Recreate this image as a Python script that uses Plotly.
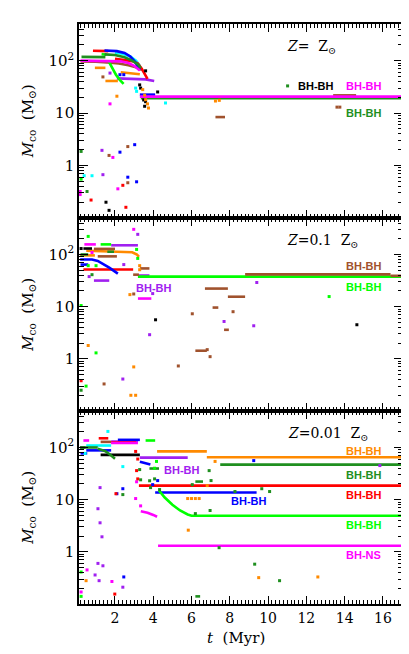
import plotly.graph_objects as go

# ---------------- colours ----------------
RED = "#ff0000"; BLUE = "#0000ff"; LIME = "#00ff00"; DKGREEN = "#1f8f1f"
MAGENTA = "#ff00ff"; CYAN = "#00ffff"; ORANGE = "#ff8a00"; BROWN = "#a0522d"
PURPLE = "#a020f0"; BLACK = "#000000"

# ---------------- Panel 1 : Z = Zsun ----------------
z1_red_t = [0.85, 1.25, 1.65, None, 2.0, 2.5, 2.9, 3.2, 3.4, 3.7]
z1_red_m = [155, 155, 152, None, 108, 104, 98, 88, 70, 45]
z1_blue_t = [1.45, 1.8, 2.1, 2.5, 2.8, 3.05, 3.3, None, 3.3, 4.1]
z1_blue_m = [156, 155, 152, 140, 120, 95, 66, None, 22.5, 22.5]
z1_dkgreen_t = [0.25, 0.9, 1.5, None, 1.45, 2.0, 2.5, 2.9, 3.2, 3.35, None, 3.35, 17.1]
z1_dkgreen_m = [118, 118, 117, None, 132, 128, 116, 100, 85, 72, None, 19.2, 19.2]
z1_magenta_t = [0.2, 1.0, 1.8, 2.3, 2.7, 3.0, 3.3, None, 3.3, 17.1]
z1_magenta_m = [100, 100, 99, 97, 90, 80, 65, None, 20.6, 20.6]
z1_cyan_t = [2.0, 2.4, 2.8, 3.1, 3.3]
z1_cyan_m = [142, 136, 120, 100, 80]
z1_lime_t = [1.3, 1.55, None, 1.65, 1.85, 2.05, 2.25, 2.45]
z1_lime_m = [133, 130, None, 100, 72, 54, 43, 36]
z1_brown_t = [0.2, 1.0, 1.6, 2.2, 2.7, 3.1, 3.4, None, 7.25, 7.75, None, 13.4, 14.6]
z1_brown_m = [97, 96, 92, 88, 82, 75, 67, None, 8.4, 8.4, None, 21.8, 21.8]
z1_orange_t = [0.95, 1.5, None, 1.5, 2.15, None, 2.3, 2.8, 3.3]
z1_orange_m = [73, 73, None, 41, 41, None, 60, 58, 55]
z1_purple_t = [2.1, 3.0, 3.6, 4.05]
z1_purple_m = [46, 45, 44, 41]

z1_dot_black_t = [3.6, 3.29, 3.34, 4.23, 3.6, 3.5, 3.55, 1.53, 1.69]
z1_dot_black_m = [64, 34.5, 30, 25.3, 16.5, 17.8, 13.5, 0.2, 0.14]
z1_dot_cyan_t = [3.08, 3.13, 4.64, 0.39, 0.8]
z1_dot_cyan_m = [30, 26, 15.6, 0.64, 0.64]
z1_dot_dkgreen_t = [0.23, 0.54, 11.02]
z1_dot_dkgreen_m = [1.86, 0.32, 33]
z1_dot_lime_t = [0.23]
z1_dot_lime_m = [0.55]
z1_dot_purple_t = [1.32, 1.37, 1.74]
z1_dot_purple_m = [1.95, 0.67, 58]
z1_dot_brown_t = [1.69, 2.67, 2.67, 1.37, 13.6, 13.75]
z1_dot_brown_m = [1.56, 2.3, 0.47, 49, 13, 13]
z1_dot_magenta_t = [1.89, 2.15, 0.18, 0.18, 1.74]
z1_dot_magenta_m = [1.43, 0.36, 0.32, 0.28, 15]
z1_dot_blue_t = [2.26, 3.03, 2.67, 3.13, 2.26, 2.46]
z1_dot_blue_m = [1.8, 2.5, 0.6, 0.49, 54, 54]
z1_dot_red_t = [2.41, 0.75, 2.57]
z1_dot_red_m = [0.42, 0.22, 0.16]
z1_dot_orange_t = [2.1, 3.45, 3.55, 3.6, 3.7, 3.75, 7.25, 7.45]
z1_dot_orange_m = [21, 28, 22, 18, 15, 12.5, 17, 17.5]

# ---------------- Panel 2 : Z = 0.1 Zsun ----------------
z2_magenta_t = [0.4, 1.0, None, 3.2, 3.9]
z2_magenta_m = [156, 156, None, 14.3, 14.3]
z2_lime_t = [1.25, 1.8, None, 3.2, 17.1]
z2_lime_m = [156, 156, None, 37.7, 37.7]
z2_purple_t = [1.8, 3.2, None, 0.9, 1.7, None, 3.2, 3.8]
z2_purple_m = [150, 150, None, 31.6, 31.6, None, 39.5, 39.5]
z2_black_t = [0.35, 0.8]
z2_black_m = [130, 130]
z2_brown_t = [0.9, 2.0, None, 1.1, 2.1, None, 2.95, 3.25, None, 3.3, 3.8, None, 8.8, 16.4,
              None, 16.4, 17.1, None, 6.7, 7.9, None, 7.9, 8.8, None, 7.1, 7.4,
              None, 7.7, 7.95, None, 6.2, 6.8]
z2_brown_m = [128, 128, None, 92, 92, None, 41, 41, None, 54, 54, None, 41.5, 41.5,
              None, 39, 39, None, 22.2, 22.2, None, 15.5, 15.5, None, 9.6, 9.6,
              None, 3.6, 3.6, None, 1.43, 1.43]
z2_orange_t = [0.5, 1.5, 2.3, 2.9, 3.15, 3.25, None, 0.18, 0.95]
z2_orange_m = [118, 116, 114, 110, 100, 90, None, 96, 96]
z2_dkgreen_t = [0.2, 0.6, None, 1.6, 1.95]
z2_dkgreen_m = [100, 100, None, 113, 113]
z2_blue_t = [0.18, 0.8, 1.1, 1.4, 1.7, 2.0, 2.15, None, 0.2, 0.6]
z2_blue_m = [80, 80, 75, 66, 56, 47, 43, None, 64, 64]
z2_red_t = [0.35, 2.95]
z2_red_m = [51.5, 51.5]

z2_dot_lime_t = [0.6, 0.23, 1.01, 0.49, 0.6, 1.01, 3.13, 3.19, 13.19]
z2_dot_lime_m = [222, 10.5, 1.3, 0.3, 61, 61, 125, 84, 15.6]
z2_dot_magenta_t = [2.98, 0.8]
z2_dot_magenta_m = [303, 109]
z2_dot_purple_t = [3.19, 3.81, 2.41, 3.97, 9.41, 7.7, 9.25, 0.65, 2.46]
z2_dot_purple_m = [243, 2.9, 0.41, 17.8, 29, 5.2, 4.3, 37.7, 64]
z2_dot_black_t = [4.12, 14.64, 0.23]
z2_dot_black_m = [5.6, 4.5, 130]
z2_dot_brown_t = [6.04, 8.17, 6.82, 6.97, 5.31, 1.43, 2.98]
z2_dot_brown_m = [7.3, 8, 1.5, 1.1, 0.73, 0.33, 17.5]
z2_dot_orange_t = [0.6, 2.98, 2.83, 3.08, 2.78, 3.29, 3.29]
z2_dot_orange_m = [1.8, 0.7, 0.2, 0.2, 17, 61, 51]
z2_dot_red_t = [0.23]
z2_dot_red_m = [0.38]
z2_dot_dkgreen_t = [0.23, 0.8]
z2_dot_dkgreen_m = [0.25, 41]

# ---------------- Panel 3 : Z = 0.01 Zsun ----------------
z3_magenta_t = [0.35, 0.65, None, 1.8, 3.2, None, 3.35, 3.7, 4.0, 4.2, None, 4.25, 17.1]
z3_magenta_m = [136, 136, None, 122, 122, None, 6.0, 5.6, 5.1, 4.7, None, 1.31, 1.31]
z3_red_t = [1.15, 1.65, None, 1.8, 3.1, None, 3.25, 17.1]
z3_red_m = [150, 150, None, 125, 125, None, 18.6, 18.6]
z3_blue_t = [2.15, 3.3, None, 0.5, 1.8, None, 0.2, 0.55, None, 3.3, 3.85, None, 4.1, 9.4]
z3_blue_m = [140, 140, None, 88, 88, None, 77, 77, None, 53, 47, None, 13.7, 13.7]
z3_purple_t = [1.8, 3.2, None, 3.3, 5.8]
z3_purple_m = [130, 130, None, 64, 64]
z3_brown_t = [1.25, 1.8]
z3_brown_m = [128, 128]
z3_lime_t = [3.6, 4.1, None, 4.3, 4.6, 5.0, 5.4, 5.8, 6.0, 17.1]
z3_lime_m = [136, 136, None, 15, 11, 8, 6.2, 5.2, 4.9, 4.9]
z3_cyan_t = [0.5, 1.8]
z3_cyan_m = [109, 109]
z3_dkgreen_t = [0.2, 1.1, None, 1.1, 1.5, 1.8, 2.0, None, 3.8, 4.3, None, 6.2, 6.6,
                None, 6.2, 6.45, None, 7.5, 17.1]
z3_dkgreen_m = [100, 100, None, 95, 85, 70, 61, None, 39.5, 39.5, None, 22.2, 22.2,
                None, 0.14, 0.14, None, 47, 47]
z3_black_t = [0.18, 0.45, None, 1.25, 3.3]
z3_black_m = [100, 100, None, 72, 72]
z3_orange_t = [4.2, 6.8, None, 6.8, 17.1]
z3_orange_m = [84, 84, None, 65, 65]

z3_dot_cyan_t = [1.63, 2.41, 0.44]
z3_dot_cyan_m = [203, 43, 77]
z3_dot_blue_t = [2.1, 2.41, 2.46, 9.25, 3.97, 4.23]
z3_dot_blue_m = [13, 16.2, 0.33, 56, 19.4, 23.2]
z3_dot_purple_t = [1.22, 1.11, 1.22, 1.32, 1.11, 1.37, 0.96, 1.17, 2.41, 15.84]
z3_dot_purple_m = [17, 6.7, 3.6, 1.94, 0.6, 0.54, 0.36, 0.28, 0.21, 45]
z3_dot_magenta_t = [1.84, 0.54, 0.23, 3.13, 3.08, 3.34]
z3_dot_magenta_m = [0.27, 0.45, 0.17, 22, 10.5, 7.6]
z3_dot_orange_t = [0.49, 5.83, 7.23, 6.82, 9.51, 12.6, 5.8, 6.0, 6.2, 6.4]
z3_dot_orange_m = [0.28, 2.6, 54, 18.6, 0.32, 0.33, 10.5, 10.5, 10.5, 10.5]
z3_dot_red_t = [1.99, 3.08, 3.19, 3.13, 2.05, 3.19]
z3_dot_red_m = [0.155, 84, 60, 36, 13, 25]
z3_dot_lime_t = [0.23, 4.17, 4.07, 0.23]
z3_dot_lime_m = [0.14, 54, 40, 0.41]
z3_dot_dkgreen_t = [2.41, 3.29, 3.34, 3.81, 4.07, 3.86, 4.33, 6.92, 7.02, 6.04, 8.27,
                    9.67, 10.08, 6.97, 6.2, 7.44, 9.3, 10.6]
z3_dot_dkgreen_m = [12.5, 37.7, 24, 23, 25, 17, 15.6, 36, 23.2, 19.4, 14.3, 16.2,
                    14.3, 6.2, 5.4, 1.2, 0.58, 0.28]

# ---------------- axis ticks ----------------
y_major = [1, 10, 100]
y_major_text = ["1", "10", "10<sup>2</sup>"]
y_minor = [0.2, 0.3, 0.4, 0.5, 0.6, 0.7, 0.8, 0.9, 2, 3, 4, 5, 6, 7, 8, 9,
           20, 30, 40, 50, 60, 70, 80, 90, 200, 300, 400]
panel_labels = ["<i>Z</i>=  Z<sub>⊙</sub>", "<i>Z</i>=0.1  Z<sub>⊙</sub>", "<i>Z</i>=0.01  Z<sub>⊙</sub>"]

fig = go.Figure()


def axes_for(panel):
    if panel == 1:
        return "x", "y"
    return "x%d" % panel, "y%d" % panel


def add_line(panel, t, m, color, width=2.6):
    xa, ya = axes_for(panel)
    fig.add_trace(go.Scatter(x=t, y=m, mode="lines", xaxis=xa, yaxis=ya,
                             line=dict(color=color, width=width),
                             showlegend=False, hoverinfo="skip"))


def add_dots(panel, t, m, color):
    xa, ya = axes_for(panel)
    fig.add_trace(go.Scatter(x=t, y=m, mode="markers", xaxis=xa, yaxis=ya,
                             marker=dict(color=color, size=3, symbol="square",
                                         line=dict(width=0)),
                             showlegend=False, hoverinfo="skip"))


# panel 1
add_line(1, z1_orange_t, z1_orange_m, ORANGE)
add_line(1, z1_purple_t, z1_purple_m, PURPLE)
add_line(1, z1_brown_t, z1_brown_m, BROWN)
add_line(1, z1_lime_t, z1_lime_m, LIME)
add_line(1, z1_cyan_t, z1_cyan_m, CYAN)
add_line(1, z1_red_t, z1_red_m, RED)
add_line(1, z1_blue_t, z1_blue_m, BLUE)
add_line(1, z1_dkgreen_t, z1_dkgreen_m, DKGREEN)
add_line(1, z1_magenta_t, z1_magenta_m, MAGENTA)
for t, m, c in [(z1_dot_black_t, z1_dot_black_m, BLACK), (z1_dot_cyan_t, z1_dot_cyan_m, CYAN),
                (z1_dot_dkgreen_t, z1_dot_dkgreen_m, DKGREEN), (z1_dot_lime_t, z1_dot_lime_m, LIME),
                (z1_dot_purple_t, z1_dot_purple_m, PURPLE), (z1_dot_brown_t, z1_dot_brown_m, BROWN),
                (z1_dot_magenta_t, z1_dot_magenta_m, MAGENTA), (z1_dot_blue_t, z1_dot_blue_m, BLUE),
                (z1_dot_red_t, z1_dot_red_m, RED), (z1_dot_orange_t, z1_dot_orange_m, ORANGE)]:
    add_dots(1, t, m, c)

# panel 2
add_line(2, z2_orange_t, z2_orange_m, ORANGE)
add_line(2, z2_dkgreen_t, z2_dkgreen_m, DKGREEN)
add_line(2, z2_black_t, z2_black_m, BLACK)
add_line(2, z2_red_t, z2_red_m, RED)
add_line(2, z2_blue_t, z2_blue_m, BLUE)
add_line(2, z2_purple_t, z2_purple_m, PURPLE)
add_line(2, z2_magenta_t, z2_magenta_m, MAGENTA)
add_line(2, z2_lime_t, z2_lime_m, LIME)
add_line(2, z2_brown_t, z2_brown_m, BROWN)
for t, m, c in [(z2_dot_lime_t, z2_dot_lime_m, LIME), (z2_dot_magenta_t, z2_dot_magenta_m, MAGENTA),
                (z2_dot_purple_t, z2_dot_purple_m, PURPLE), (z2_dot_black_t, z2_dot_black_m, BLACK),
                (z2_dot_brown_t, z2_dot_brown_m, BROWN), (z2_dot_orange_t, z2_dot_orange_m, ORANGE),
                (z2_dot_red_t, z2_dot_red_m, RED), (z2_dot_dkgreen_t, z2_dot_dkgreen_m, DKGREEN)]:
    add_dots(2, t, m, c)

# panel 3
add_line(3, z3_cyan_t, z3_cyan_m, CYAN)
add_line(3, z3_black_t, z3_black_m, BLACK)
add_line(3, z3_brown_t, z3_brown_m, BROWN)
add_line(3, z3_purple_t, z3_purple_m, PURPLE)
add_line(3, z3_blue_t, z3_blue_m, BLUE)
add_line(3, z3_dkgreen_t, z3_dkgreen_m, DKGREEN)
add_line(3, z3_orange_t, z3_orange_m, ORANGE)
add_line(3, z3_red_t, z3_red_m, RED)
add_line(3, z3_lime_t, z3_lime_m, LIME)
add_line(3, z3_magenta_t, z3_magenta_m, MAGENTA)
for t, m, c in [(z3_dot_cyan_t, z3_dot_cyan_m, CYAN), (z3_dot_blue_t, z3_dot_blue_m, BLUE),
                (z3_dot_purple_t, z3_dot_purple_m, PURPLE), (z3_dot_magenta_t, z3_dot_magenta_m, MAGENTA),
                (z3_dot_orange_t, z3_dot_orange_m, ORANGE), (z3_dot_red_t, z3_dot_red_m, RED),
                (z3_dot_lime_t, z3_dot_lime_m, LIME), (z3_dot_dkgreen_t, z3_dot_dkgreen_m, DKGREEN)]:
    add_dots(3, t, m, c)

# ---------------- layout ----------------
SERIF = "DejaVu Serif"
W, H = 409, 654
ML, MR, MT, MB = 71, 12, 16, 58
PH = H - MT - MB
PW = W - ML - MR


def py(pix):
    return (H - MB - pix) / PH


def px(pix):
    return (pix - ML) / PW


domains = [[py(210), 1.0], [py(403), py(210)], [0.0, py(403)]]

xcommon = dict(range=[0.12, 17.05], showline=True, linecolor="black", linewidth=1.6,
               mirror="allticks", ticks="inside", ticklen=8, tickwidth=1.3, tickcolor="black",
               tick0=0, dtick=2, showgrid=False, zeroline=False,
               minor=dict(tick0=0, dtick=0.2, ticks="inside", ticklen=4, tickwidth=1,
                          tickcolor="black", showgrid=False),
               tickfont=dict(family=SERIF, size=14, color="black"))
ycommon = dict(type="log", range=[-1.0, 2.699], showline=True, linecolor="black", linewidth=1.6,
               mirror="allticks", ticks="inside", ticklen=9, tickwidth=1.3, tickcolor="black",
               tickmode="array", tickvals=y_major, ticktext=y_major_text,
               showgrid=False, zeroline=False,
               minor=dict(tickmode="array", tickvals=y_minor, ticks="inside", ticklen=5,
                          tickwidth=1, tickcolor="black", showgrid=False),
               tickfont=dict(family=SERIF, size=15, color="black"))

layout = dict(width=W, height=H, margin=dict(l=ML, r=MR, t=MT, b=MB, pad=0),
              paper_bgcolor="white", plot_bgcolor="white", showlegend=False)
for i in range(1, 4):
    xk = "xaxis" if i == 1 else "xaxis%d" % i
    yk = "yaxis" if i == 1 else "yaxis%d" % i
    xa, ya = axes_for(i)
    layout[xk] = dict(xcommon, anchor=ya, domain=[0, 1], showticklabels=(i == 3),
                      **({} if i == 1 else {"matches": "x"}))
    layout[yk] = dict(ycommon, anchor=xa, domain=domains[i - 1])
fig.update_layout(**layout)

ann = []
# y titles
for i, (lo, hi) in enumerate(domains):
    ann.append(dict(text="<i>M</i><sub>co</sub>  (M<sub>⊙</sub>)", xref="paper", yref="paper",
                    x=px(20), y=(lo + hi) / 2, textangle=-90, showarrow=False,
                    xanchor="center", yanchor="middle",
                    font=dict(family=SERIF, size=15, color="black")))
# x title
ann.append(dict(text="<i>t</i>  (Myr)", xref="paper", yref="paper", x=px(229), y=py(630),
                showarrow=False, xanchor="center", yanchor="middle",
                font=dict(family=SERIF, size=15, color="black")))
# panel metallicity labels
for lab, cx, cy in zip(panel_labels, [305, 317, 322], [39, 233, 426]):
    ann.append(dict(text=lab, xref="paper", yref="paper", x=px(cx), y=py(cy), showarrow=False,
                    xanchor="center", yanchor="middle",
                    font=dict(family=SERIF, size=14, color="black")))
# merger type labels
LBL = "Liberation Sans"
merger_labels = [("BH-BH", BLACK, 309, 78), ("BH-BH", MAGENTA, 357, 78), ("BH-BH", DKGREEN, 357, 105),
                 ("BH-BH", BROWN, 357, 258), ("BH-BH", LIME, 357, 279), ("BH-BH", PURPLE, 146, 280),
                 ("BH-BH", ORANGE, 357, 443), ("BH-BH", DKGREEN, 357, 467), ("BH-BH", RED, 357, 487),
                 ("BH-BH", LIME, 357, 517), ("BH-NS", MAGENTA, 357, 547), ("BH-BH", BLUE, 242, 493),
                 ("BH-BH", PURPLE, 174, 462)]
for text, col, cx, cy in merger_labels:
    ann.append(dict(text="<b>%s</b>" % text, xref="paper", yref="paper", x=px(cx), y=py(cy),
                    showarrow=False, xanchor="center", yanchor="middle",
                    font=dict(family=LBL, size=11, color=col)))
fig.update_layout(annotations=ann)

fig.write_html("out.html")
